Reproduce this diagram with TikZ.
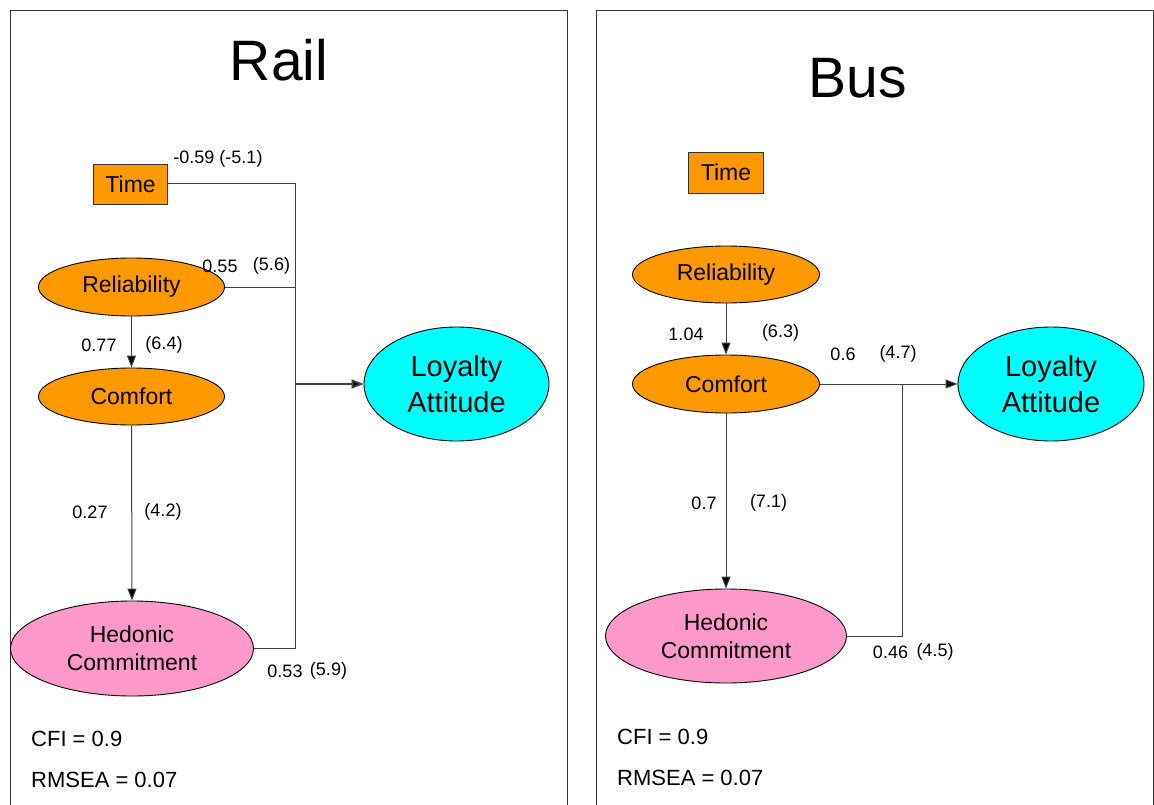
\documentclass[tikz,border=0pt]{standalone}
\usepackage{fontspec}
\setmainfont{Liberation Sans}
\usetikzlibrary{shapes.geometric,arrows.meta}
\definecolor{orng}{RGB}{255,153,0}
\definecolor{cyn}{RGB}{0,255,255}
\definecolor{pnk}{RGB}{255,153,204}
\begin{document}
\begin{tikzpicture}[x=1pt,y=-1pt,
  ov/.style={ellipse,draw=black,line width=0.9pt,inner sep=0pt,align=center,font=\fontsize{23}{28}\selectfont},
  tbox/.style={rectangle,draw=black!80,line width=0.9pt,fill=orng,inner sep=0pt,minimum width=74pt,minimum height=40pt,font=\fontsize{23}{28}\selectfont},
  lbl/.style={font=\fontsize{18}{20}\selectfont,inner sep=0pt},
  conn/.style={draw=black!75,line width=1pt},
  arr/.style={conn,-{Triangle[length=12pt,width=9pt,fill=black]}},
  ttl/.style={font=\fontsize{57}{60}\selectfont,inner sep=0pt},
  stats/.style={font=\fontsize{22}{24}\selectfont,anchor=west,inner sep=0pt},
  panel/.style={draw=black!80,line width=1pt}
]
\useasboundingbox (0,0) rectangle (1154,805);
\fill[white] (0,0) rectangle (1154,805);

% ---------------- Rail panel ----------------
\draw[panel] (10,806) -- (10,11) -- (567,11) -- (567,806);
\node[ttl] (railt) at (279,60) {Rail};
\node[tbox] (rtime) at (130.6,184) {Time};
\node[ov,fill=orng,minimum width=186pt,minimum height=58pt] (rrel) at (131.5,287) {Reliability};
\node[ov,fill=orng,minimum width=186pt,minimum height=57pt] (rcom) at (131.5,396.5) {Comfort};
\node[ov,fill=pnk,minimum width=243pt,minimum height=95pt] (rhed) at (132,648.5) {Hedonic\\Commitment};
\node[ov,fill=cyn,minimum width=185pt,minimum height=114pt,font=\fontsize{29}{36}\selectfont] (rloy) at (456.5,384) {Loyalty\\Attitude};

\coordinate (rj) at (295,384);
\draw[conn] (rrel.east) -- (rrel.east -| rj) -- (rj);
\draw[conn] (rhed.east) -- (rhed.east -| rj) -- (rj);
\draw[conn] (rtime.east) -- (rtime.east -| rj) -- (rj);
\draw[arr,line width=1.8pt] (rj) -- (rloy.west);
\draw[arr] (rrel.south) -- (rcom.north);
\draw[arr] (rcom.south) -- (rhed.north);

\node[lbl] (rl1) at (218,159) {-0.59 (-5.1)};
\node[lbl] (rl2) at (220,266) {0.55};
\node[lbl] (rl3) at (271.5,266) {(5.6)};
\node[lbl] (rl4) at (99,345) {0.77};
\node[lbl] (rl5) at (164,345) {(6.4)};
\node[lbl] (rl6) at (90,512) {0.27};
\node[lbl] (rl7) at (163,512) {(4.2)};
\node[lbl] (rl8) at (285,671) {0.53};
\node[lbl] (rl9) at (328.5,671) {(5.9)};
\node[stats] (rcfi) at (31,739) {CFI = 0.9};
\node[stats] (rrm) at (31,780) {RMSEA = 0.07};

% ---------------- Bus panel ----------------
\draw[panel] (596,806) -- (596,11) -- (1153,11) -- (1153,806);
\node[ttl] (bust) at (857.5,78) {Bus};
\node[tbox,minimum width=75pt,minimum height=41pt] (btime) at (726,172.7) {Time};
\node[ov,fill=orng,minimum width=187pt,minimum height=57pt] (brel) at (726,274.5) {Reliability};
\node[ov,fill=orng,minimum width=187pt,minimum height=58pt] (bcom) at (726,384) {Comfort};
\node[ov,fill=pnk,minimum width=241pt,minimum height=94pt] (bhed) at (726,636) {Hedonic\\Commitment};
\node[ov,fill=cyn,minimum width=186pt,minimum height=114pt,font=\fontsize{29}{36}\selectfont] (bloy) at (1051,384) {Loyalty\\Attitude};

\coordinate (bj) at (902,384);
\draw[conn] (bhed.east) -- (bhed.east -| bj) -- (bj);
\draw[arr] (bcom.east) -- (bloy.west);
\draw[arr] (brel.south) -- (bcom.north);
\draw[arr] (bcom.south) -- (bhed.north);

\node[lbl] (bl1) at (686,334) {1.04};
\node[lbl] (bl2) at (780.5,333) {(6.3)};
\node[lbl] (bl3) at (843,354) {0.6};
\node[lbl] (bl4) at (898,354) {(4.7)};
\node[lbl] (bl5) at (704,503) {0.7};
\node[lbl] (bl6) at (768.5,503) {(7.1)};
\node[lbl] (bl7) at (890.5,652) {0.46};
\node[lbl] (bl8) at (935,652) {(4.5)};
\node[stats] (bcfi) at (617,737) {CFI = 0.9};
\node[stats] (brm) at (617,778) {RMSEA = 0.07};
\end{tikzpicture}
\end{document}
